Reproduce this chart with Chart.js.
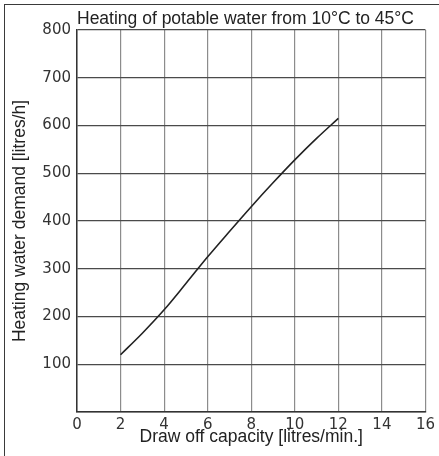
<!DOCTYPE html>
<html>
<head>
<meta charset="utf-8">
<script src="https://cdn.jsdelivr.net/npm/chart.js@4"></script>
<style>
  html, body { margin: 0; padding: 0; background: #fff; }
  #wrap { position: relative; width: 439px; height: 456px; }
  #frame {
    position: absolute; left: 4px; top: 4px; right: -10px; bottom: -10px;
    border-left: 1.5px solid #3a3a3a; border-top: 1.5px solid #3a3a3a;
    pointer-events: none;
  }
</style>
</head>
<body>
<div id="wrap">
  <canvas id="chart" width="439" height="456"></canvas>
  <div id="frame"></div>
</div>
<script>
/* data */
var drawOff = [2, 3, 4, 5, 6, 7, 8, 9, 10, 11, 12];
var demand = [120, 165, 214, 269, 325, 378, 430, 480, 528, 573, 615];

var xTicks = [0, 2, 4, 6, 8, 10, 12, 14, 16];
var yTicks = [100, 200, 300, 400, 500, 600, 700, 800];

var points = [];
for (var i = 0; i < drawOff.length; i++) {
  points.push({ x: drawOff[i], y: demand[i] });
}

var tickFont = { family: 'DejaVu Sans', size: 15 };
var labelFont = { family: 'Liberation Sans', size: 17.5 };

var ctx = document.getElementById('chart').getContext('2d');
var chart = new Chart(ctx, {
  type: 'line',
  data: {
    datasets: [{
      data: points,
      borderColor: '#222',
      borderWidth: 1.6,
      pointRadius: 0,
      tension: 0.4,
      cubicInterpolationMode: 'monotone',
      fill: false
    }]
  },
  options: {
    responsive: false,
    animation: false,
    layout: { padding: { left: 0, right: 10, top: 0, bottom: 0 } },
    plugins: {
      legend: { display: false },
      tooltip: { enabled: false },
      title: {
        display: true,
        text: 'Heating of potable water from 10°C to 45°C',
        align: 'start',
        fullSize: false,
        color: '#222',
        font: { family: 'Liberation Sans', size: 17.5, weight: 'normal' },
        padding: { top: 8.5, bottom: 0.5 }
      }
    },
    scales: {
      x: {
        type: 'linear',
        min: 0,
        max: 16,
        afterBuildTicks: function (scale) {
          scale.ticks = xTicks.map(function (v) { return { value: v }; });
        },
        afterFit: function (scale) { scale.height = 44; },
        grid: { color: '#8c8c8c', lineWidth: 1.2, drawTicks: false },
        border: { color: '#333', width: 1.5 },
        ticks: { color: '#333', font: tickFont, padding: 4 },
        title: {
          display: true,
          text: 'Draw off capacity [litres/min.]',
          color: '#222',
          font: labelFont,
          padding: { top: 0, bottom: 8.5 }
        }
      },
      y: {
        min: 0,
        max: 800,
        afterBuildTicks: function (scale) {
          scale.ticks = [{ value: 0 }].concat(yTicks.map(function (v) { return { value: v }; }));
        },
        afterFit: function (scale) { scale.width = 77; },
        grid: { color: '#4a4a4a', lineWidth: 1.2, drawTicks: false },
        border: { color: '#333', width: 1.5 },
        ticks: {
          color: '#333',
          font: tickFont,
          padding: 6,
          callback: function (v) { return v === 0 ? '' : v; }
        },
        title: {
          display: true,
          text: 'Heating water demand [litres/h]',
          color: '#222',
          font: labelFont,
          padding: { top: 9.5, bottom: 0 }
        }
      }
    }
  }
});
</script>
</body>
</html>
